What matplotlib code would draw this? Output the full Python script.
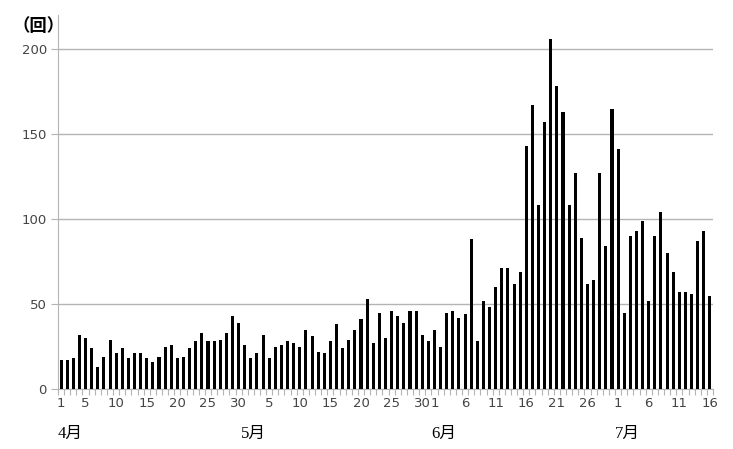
import matplotlib
matplotlib.use("Agg")
import matplotlib.pyplot as plt
import matplotlib.transforms as mtransforms
import numpy as np

plt.rcParams['font.family'] = ['DejaVu Sans', 'Noto Sans CJK JP']

# Daily counts (回)
april = [17, 17, 18, 32, 30, 24, 13, 19, 29, 21, 24, 18, 21, 21, 18, 16, 19, 25, 26, 18,
         19, 24, 28, 33, 28, 28, 29, 33, 43, 39]
may = [26, 18, 21, 32, 18, 25, 26, 28, 27, 25, 35, 31, 22, 21, 28, 38, 24, 29, 35, 41,
       53, 27, 45, 30, 46, 43, 39, 46, 46, 32, 28]
june = [35, 25, 45, 46, 42, 44, 88, 28, 52, 48, 60, 71, 71, 62, 69, 143, 167, 108, 157, 206,
        178, 163, 108, 127, 89, 62, 64, 127, 84, 165]
july = [141, 45, 90, 93, 99, 52, 90, 104, 80, 69, 57, 57, 56, 87, 93, 55]

months = ["4月", "5月", "6月", "7月"]
month_data = [april, may, june, july]
tick_days = [
    [1, 5, 10, 15, 20, 25, 30],
    [5, 10, 15, 20, 25, 30],
    [1, 6, 11, 16, 21, 26],
    [1, 6, 11, 16],
]
y_ticks = [0, 50, 100, 150, 200]

values = []
starts = []
for d in month_data:
    starts.append(len(values))
    values.extend(d)
x = np.arange(len(values))

fig = plt.figure(figsize=(7.33, 4.49), dpi=100)
ax = fig.add_axes([58 / 733, 1 - 389 / 449, (713 - 58) / 733, (389 - 15) / 449])

ax.bar(x, values, width=0.5, color="black", zorder=3)

ax.set_xlim(-0.5, len(values) - 0.5)
ax.set_ylim(0, 220)
ax.set_yticks(y_ticks)
ax.yaxis.grid(True, color="#b4b4b4", linewidth=1.0, zorder=0)
ax.tick_params(axis="y", length=5, color="#b4b4b4", labelcolor="#444444", labelsize=9.5, pad=3)

# x ticks
pos, labs = [], []
for s, days in zip(starts, tick_days):
    for dd in days:
        pos.append(s + dd - 1)
        labs.append(str(dd))
ax.set_xticks(pos)
ax.set_xticklabels(labs)
ax.tick_params(axis="x", length=0, labelcolor="#444444", labelsize=9.5, pad=6)
ax.set_xticks(np.arange(len(values) + 1) - 0.5, minor=True)
ax.tick_params(axis="x", which="minor", length=4, color="#b4b4b4", width=0.8)

for sp in ["top", "right"]:
    ax.spines[sp].set_visible(False)
ax.spines["left"].set_color("#b4b4b4")
ax.spines["bottom"].set_color("#b4b4b4")

trans = mtransforms.blended_transform_factory(ax.transData, ax.transAxes)
for s, m in zip(starts, months):
    ax.text(s + 1.5, -0.12, m, transform=trans, ha="center", va="center",
            fontsize=12, family=["Liberation Serif", "Noto Sans CJK JP"], color="black")

fig.text(39 / 733, 1 - 26 / 449, "（回）", ha="center", va="center", fontsize=12.5,
         family=["Noto Sans CJK JP"], fontweight="bold", color="black")

fig.savefig("out.png", dpi=100)
